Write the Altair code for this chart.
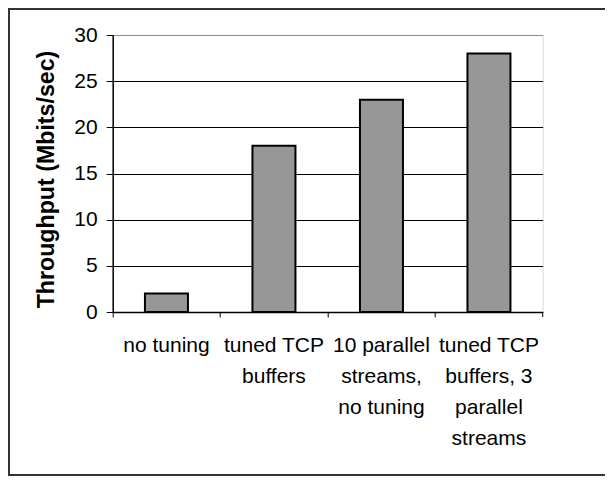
import altair as alt
import pandas as pd

categories = ["no tuning", "tuned TCP|buffers", "10 parallel|streams,|no tuning",
              "tuned TCP|buffers, 3|parallel|streams"]
throughput = [2, 18, 23, 28]
y_ticks = [0, 5, 10, 15, 20, 25, 30]

df = pd.DataFrame({"cat": categories, "val": throughput})

W, H = 430, 277
FONT = "Liberation Sans"

xenc = alt.X("cat:N", sort=categories, title=None,
             scale=alt.Scale(paddingInner=0, paddingOuter=0),
             axis=alt.Axis(bandPosition=0, labelExpr="split(datum.label, '|')",
                           labelAngle=0, labelFont=FONT, labelFontSize=21,
                           labelColor="black", labelLineHeight=31,
                           labelPadding=17, tickSize=5, tickColor="black",
                           tickWidth=1, domainColor="black", domainWidth=1.5,
                           grid=False, labelLimit=300))

bars = alt.Chart(df).mark_bar(
    width=alt.RelativeBandSize(0.4), fill="#979797", stroke="black", strokeWidth=2
).encode(
    x=xenc,
    y=alt.Y("val:Q", title="Throughput (Mbits/sec)",
            scale=alt.Scale(domain=[0, 30], nice=False),
            axis=alt.Axis(values=y_ticks, labelFont=FONT, labelFontSize=21,
                          labelColor="black", labelPadding=9, tickSize=6.5,
                          tickColor="black", tickWidth=1, domainColor="black",
                          domainWidth=1.5, grid=True,
                          gridColor={"condition": {"test": "datum.value === 30", "value": "#8c8c8c"},
                                     "value": "black"},
                          gridWidth=1,
                          titleFont=FONT, titleFontSize=23.2, titleFontWeight="bold",
                          titleColor="black", titleX=-66.5, titleY=144,
                          titleBaseline="middle")),
)

end_tick = alt.Chart(df).transform_filter(
    alt.datum.cat == categories[-1]
).mark_rule(color="black", strokeWidth=1).encode(
    x=alt.X("cat:N", sort=categories, bandPosition=1),
    y=alt.value(H),
    y2=alt.value(H + 5),
)

one = pd.DataFrame({"a": [0]})
frame_left = alt.Chart(one).mark_rule(color="#333333", strokeWidth=2).encode(
    x=alt.value(-103.7), y=alt.value(-26), y2=alt.value(440))
frame_top = alt.Chart(one).mark_rule(color="#333333", strokeWidth=2).encode(
    x=alt.value(-104.7), x2=alt.value(492.3), y=alt.value(-26))
frame_bottom = alt.Chart(one).mark_rule(color="#333333", strokeWidth=2).encode(
    x=alt.value(-104.7), x2=alt.value(492.3), y=alt.value(440))

chart = alt.layer(bars, end_tick, frame_left, frame_top, frame_bottom).properties(
    width=W, height=H,
    autosize=alt.AutoSizeParams(type="none"),
    padding={"left": 104.7, "top": 27, "right": 62.3, "bottom": 164},
).configure_view(stroke="#8c8c8c", strokeWidth=1.5).configure(background="white")

chart.save("out.html", embed_options={"renderer": "svg", "actions": False})
